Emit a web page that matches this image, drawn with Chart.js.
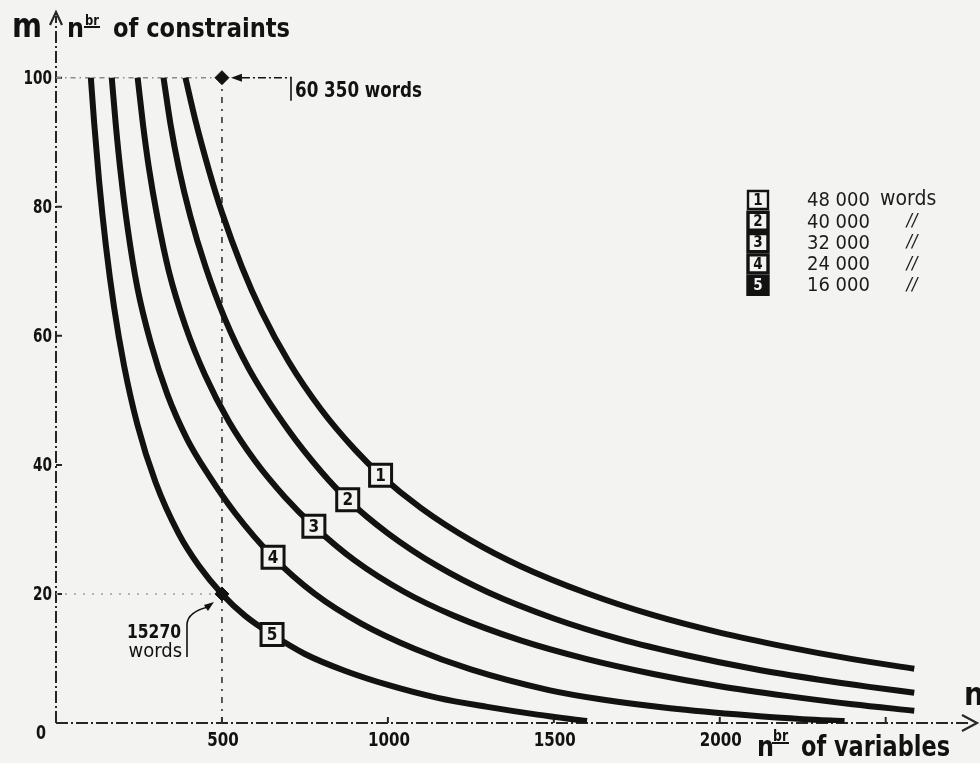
<!DOCTYPE html>
<html>
<head>
<meta charset="utf-8">
<script src="https://cdn.jsdelivr.net/npm/chart.js@4.4.1/dist/chart.umd.min.js"></script>
<style>
  html, body { margin: 0; padding: 0; background: #f3f3f1; }
  #wrap { width: 980px; height: 763px; position: relative; }
</style>
</head>
<body>
<div id="wrap"><canvas id="c"></canvas></div>
<script>
// Number of constraints m against number of variables n for five storage sizes
const curveIds   = ['1', '2', '3', '4', '5'];
const curveWords = ['48 000', '40 000', '32 000', '24 000', '16 000'];

const n1 = [390, 420, 460, 500, 560, 620, 700, 800, 900, 978, 1100, 1250, 1400, 1600, 1800, 2000, 2200, 2400, 2586];
const m1 = [100, 93.4, 85.8, 79.1, 70.7, 63.7, 56.1, 48.5, 42.4, 38.4, 33.3, 28.3, 24.3, 20.1, 16.7, 14.0, 11.8, 9.9, 8.4];

const n2 = [324, 345, 370, 405, 450, 510, 580, 700, 800, 879, 1000, 1150, 1300, 1500, 1700, 1900, 2100, 2300, 2450, 2586];
const m2 = [100, 92.8, 86.0, 78.5, 70.8, 62.5, 55.0, 45.4, 38.9, 34.6, 29.4, 24.3, 20.3, 16.2, 13.0, 10.5, 8.4, 6.7, 5.6, 4.7];

const n3 = [246, 262, 280, 305, 340, 390, 450, 520, 600, 690, 777, 900, 1050, 1200, 1400, 1600, 1800, 2000, 2200, 2400, 2586];
const m3 = [100, 92.8, 86.0, 78.5, 70.0, 61.5, 53.8, 46.8, 40.6, 35.0, 30.5, 25.2, 20.3, 16.6, 12.8, 9.9, 7.6, 5.7, 4.2, 2.9, 1.9];

const n4 = [168, 180, 195, 215, 245, 285, 335, 395, 460, 540, 654, 780, 920, 1080, 1250, 1485, 1650, 1850, 2085, 2250, 2376];
const m4 = [100, 92.8, 85.2, 77.0, 67.5, 59.0, 51.0, 44.0, 38.4, 32.5, 25.7, 20.0, 15.4, 11.5, 8.3, 5.1, 3.6, 2.3, 1.2, 0.6, 0.3];

const n5 = [105, 115, 130, 150, 175, 205, 245, 300, 370, 430, 500, 570, 651, 750, 870, 1000, 1150, 1300, 1450, 1600];
const m5 = [100, 93.0, 83.9, 74.1, 64.4, 55.4, 46.3, 37.3, 29.3, 24.4, 20.0, 16.6, 13.7, 10.7, 8.1, 5.9, 3.9, 2.5, 1.3, 0.3];

// where each curve carries its numbered tag
const tagN = [978, 879, 777, 654, 651];
const tagM = [38.4, 34.6, 30.5, 25.7, 13.7];

// two worked examples at n = 500
const markN = [500, 500];
const markM = [100, 20];
const markWords = ['60 350', '15270'];

const xTicks = [500, 1000, 1500, 2000, 2500];
const xTickLabels = ['500', '1000', '1500', '2000', ''];
const yTicks = [20, 40, 60, 80, 100];
const yTickLabels = ['20', '40', '60', '80', '100'];

const INK = '#121212';
const PAPER = '#f3f3f1';
const CONDENSED = '"DejaVu Sans Condensed", "DejaVu Sans", sans-serif';

const curveN = [n1, n2, n3, n4, n5];
const curveM = [m1, m2, m3, m4, m5];

const datasets = curveN.map((ns, i) => ({
  label: curveWords[i] + ' words',
  data: ns.map((n, k) => ({ x: n, y: curveM[i][k] })),
  showLine: true,
  borderColor: INK,
  borderWidth: 6,
  pointRadius: 0,
  cubicInterpolationMode: 'monotone',
  borderCapStyle: 'butt',
  order: 1
}));

// guide lines from the axes to the example points
datasets.push({
  label: 'guide-h100',
  data: [{ x: 0, y: markM[0] }, { x: markN[0], y: markM[0] }],
  showLine: true, borderColor: '#8a8a88', borderWidth: 1.5,
  borderDash: [5, 4, 1.5, 4], pointRadius: 0, order: 3
});
datasets.push({
  label: 'guide-h20',
  data: [{ x: 0, y: markM[1] }, { x: markN[1], y: markM[1] }],
  showLine: true, borderColor: '#a0a09e', borderWidth: 1.5,
  borderDash: [2, 7], pointRadius: 0, order: 3
});
datasets.push({
  label: 'guide-v500',
  data: [{ x: markN[0], y: 0 }, { x: markN[0], y: markM[0] }],
  showLine: true, borderColor: '#333', borderWidth: 1.6,
  borderDash: [6, 6, 2, 6], pointRadius: 0, order: 3
});
datasets.push({
  label: 'marks',
  data: markN.map((n, k) => ({ x: n, y: markM[k] })),
  showLine: false, pointStyle: 'rectRot', pointRadius: 7,
  backgroundColor: INK, borderColor: INK, borderWidth: 1, order: 0
});

function txt(ctx, s, x, y, font, align, maxW, color) {
  ctx.font = font;
  ctx.textAlign = align || 'left';
  ctx.fillStyle = color || INK;
  if (maxW) ctx.fillText(s, x, y, maxW); else ctx.fillText(s, x, y);
}

function tagBox(ctx, cx, cy, w, h, label, filled, lw, fontPx) {
  ctx.save();
  ctx.beginPath();
  ctx.rect(cx - w / 2, cy - h / 2, w, h);
  ctx.fillStyle = filled ? INK : PAPER;
  ctx.fill();
  ctx.lineWidth = lw;
  ctx.strokeStyle = INK;
  ctx.stroke();
  ctx.textBaseline = 'middle';
  txt(ctx, label, cx, cy + 1, 'bold ' + fontPx + 'px ' + CONDENSED, 'center', null, filled ? PAPER : INK);
  ctx.restore();
}

const paperPlugin = {
  id: 'paper',
  beforeDraw(chart) {
    const ctx = chart.ctx;
    ctx.save();
    ctx.fillStyle = PAPER;
    ctx.fillRect(0, 0, chart.width, chart.height);
    ctx.restore();
  },
  beforeDatasetsDraw(chart) {
    const ctx = chart.ctx, xs = chart.scales.x, ys = chart.scales.y;
    const x0 = xs.getPixelForValue(0), y0 = ys.getPixelForValue(0);
    ctx.save();
    ctx.strokeStyle = '#262626';
    ctx.lineWidth = 2;
    ctx.setLineDash([12, 3, 2, 3]);
    ctx.beginPath();
    ctx.moveTo(x0, y0); ctx.lineTo(x0, 16);
    ctx.moveTo(x0, y0); ctx.lineTo(968, y0);
    ctx.stroke();
    ctx.setLineDash([]);
    // arrow heads
    ctx.lineWidth = 2.2;
    ctx.beginPath();
    ctx.moveTo(x0 - 6, 25); ctx.lineTo(x0, 12); ctx.lineTo(x0 + 6, 25);
    ctx.moveTo(962, y0 - 8); ctx.lineTo(977, y0); ctx.lineTo(962, y0 + 8);
    ctx.stroke();
    // ticks
    ctx.lineWidth = 2;
    ctx.beginPath();
    yTicks.forEach(v => { const p = ys.getPixelForValue(v); ctx.moveTo(x0, p); ctx.lineTo(x0 + 6, p); });
    xTicks.forEach(v => { const p = xs.getPixelForValue(v); ctx.moveTo(p, y0); ctx.lineTo(p, y0 - 6); });
    ctx.stroke();
    ctx.restore();
  },
  afterDatasetsDraw(chart) {
    const ctx = chart.ctx, xs = chart.scales.x, ys = chart.scales.y;
    const x0 = xs.getPixelForValue(0), y0 = ys.getPixelForValue(0);
    ctx.save();
    ctx.textBaseline = 'middle';
    // tick labels
    yTicks.forEach((v, i) => {
      const s = yTickLabels[i];
      txt(ctx, s, x0 - 4, ys.getPixelForValue(v) + 1, 'bold 20px ' + CONDENSED, 'right', s.length * 9.5);
    });
    txt(ctx, '0', x0 - 15, y0 + 11, 'bold 20px ' + CONDENSED, 'center', 10);
    xTicks.forEach((v, i) => {
      const s = xTickLabels[i];
      if (s) txt(ctx, s, xs.getPixelForValue(v) + 1, y0 + 18, 'bold 20px ' + CONDENSED, 'center', s.length * 10.5);
    });

    // axis titles
    ctx.textBaseline = 'alphabetic';
    txt(ctx, 'm', 12, 37, 'bold 34px ' + CONDENSED, 'left', 30);
    txt(ctx, 'n', 67, 37, 'bold 27px ' + CONDENSED, 'left', 17);
    txt(ctx, 'br', 85, 25, 'bold 14px ' + CONDENSED, 'left', 14);
    txt(ctx, 'of constraints', 113, 37, 'bold 27px ' + CONDENSED, 'left', 177);
    txt(ctx, 'n', 757, 756, 'bold 29px ' + CONDENSED, 'left', 17);
    txt(ctx, 'br', 773, 741, 'bold 15px ' + CONDENSED, 'left', 15);
    txt(ctx, 'of variables', 801, 756, 'bold 29px ' + CONDENSED, 'left', 149);
    txt(ctx, 'n', 964, 705, 'bold 32px ' + CONDENSED, 'left', 20);
    ctx.strokeStyle = INK; ctx.lineWidth = 1.8;
    ctx.beginPath();
    ctx.moveTo(84, 27); ctx.lineTo(100, 27);
    ctx.moveTo(772, 743); ctx.lineTo(789, 743);
    ctx.stroke();

    // example 1: n = 500, m = 100
    const p1x = xs.getPixelForValue(markN[0]), p1y = ys.getPixelForValue(markM[0]);
    ctx.fillStyle = INK;
    ctx.beginPath();
    ctx.moveTo(p1x + 9, p1y); ctx.lineTo(p1x + 20, p1y - 4); ctx.lineTo(p1x + 20, p1y + 4); ctx.closePath();
    ctx.fill();
    ctx.lineWidth = 1.6;
    ctx.setLineDash([8, 3, 2, 3]);
    ctx.beginPath(); ctx.moveTo(p1x + 20, p1y); ctx.lineTo(291, p1y); ctx.stroke();
    ctx.setLineDash([]);
    ctx.beginPath(); ctx.moveTo(291, p1y - 1); ctx.lineTo(291, p1y + 23); ctx.stroke();
    txt(ctx, markWords[0] + ' words', 295, p1y + 19, 'bold 22px ' + CONDENSED, 'left', 127);

    // example 2: n = 500, m = 20
    const p2x = xs.getPixelForValue(markN[1]), p2y = ys.getPixelForValue(markM[1]);
    ctx.lineWidth = 1.6;
    ctx.beginPath();
    ctx.moveTo(187, p2y + 63); ctx.lineTo(187, p2y + 30);
    ctx.quadraticCurveTo(188, p2y + 18, p2x - 14, p2y + 13);
    ctx.stroke();
    ctx.beginPath();
    ctx.moveTo(p2x - 8, p2y + 8); ctx.lineTo(p2x - 18, p2y + 11); ctx.lineTo(p2x - 14, p2y + 17); ctx.closePath();
    ctx.fill();
    txt(ctx, markWords[1], 181, p2y + 44, 'bold 19px ' + CONDENSED, 'right', 54);
    txt(ctx, 'words', 182, p2y + 63, '20px ' + CONDENSED, 'right', 60);

    // numbered tags sitting on the curves
    tagN.forEach((n, i) => {
      tagBox(ctx, xs.getPixelForValue(n), ys.getPixelForValue(tagM[i]), 22, 22, curveIds[i], false, 3, 17);
    });

    // key
    curveIds.forEach((id, i) => {
      const cy = 200 + i * 21.3;
      tagBox(ctx, 758, cy, 20, 18, id, i === 4, i === 0 ? 2.4 : 3.4, 15);
      ctx.textBaseline = 'middle';
      txt(ctx, curveWords[i], 807, cy + 1, '20px ' + CONDENSED, 'left', 66, '#1c1c1c');
      if (i === 0) txt(ctx, 'words', 880, cy, '21px ' + CONDENSED, 'left', 71, '#1c1c1c');
      else txt(ctx, '//', 912, cy, 'italic 18px ' + CONDENSED, 'center', 16, '#1c1c1c');
    });
    ctx.restore();
  }
};

new Chart(document.getElementById('c'), {
  type: 'scatter',
  data: { datasets },
  options: {
    responsive: true,
    maintainAspectRatio: false,
    animation: false,
    layout: { padding: { left: 56, right: 5, top: 28, bottom: 40 } },
    plugins: { legend: { display: false }, tooltip: { enabled: false } },
    scales: {
      x: { type: 'linear', min: 0, max: 2760, display: false },
      y: { type: 'linear', min: 0, max: 107.7, display: false }
    }
  },
  plugins: [paperPlugin]
});
</script>
</body>
</html>
